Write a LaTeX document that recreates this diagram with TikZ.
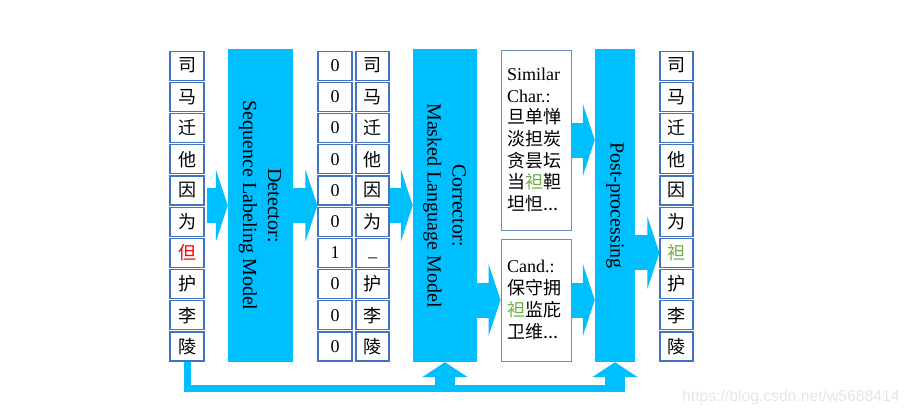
\documentclass[tikz,border=0pt]{standalone}
\usepackage{fontspec}
\setmainfont{Liberation Serif}
\setsansfont{Liberation Sans}
\newfontfamily\cjk{Noto Sans CJK SC}
\usepackage{tikz}
\usetikzlibrary{arrows.meta, calc}

\definecolor{skyb}{RGB}{0,191,255}
\definecolor{bord}{RGB}{68,114,196}
\definecolor{grn}{RGB}{112,173,71}

\tikzset{
  cell/.style = {draw=bord, line width=1.2pt, fill=white, minimum width=34pt,
    minimum height=29pt, inner sep=0pt, font=\cjk\fontsize{18}{18}\selectfont},
  num/.style = {cell, font=\fontsize{18}{18}\selectfont},
  big/.style = {fill=skyb, minimum height=313pt, inner sep=0pt,
    font=\fontsize{20}{25}\selectfont},
  txtbox/.style = {draw=bord!80, line width=1pt, minimum width=70pt, text width=58pt,
    inner xsep=6pt, align=left, font=\fontsize{18}{21.7}\selectfont},
  blk/.style = {skyb, line width=35pt, -{Triangle[length=12pt, width=72pt]}},
  fb/.style = {skyb, line width=7pt},
  uparr/.style = {skyb, line width=20pt, -{Triangle[length=15pt, width=45pt]}}
}

\begin{document}
\begin{tikzpicture}[x=1pt, y=-1pt]
\useasboundingbox (0,0) rectangle (910,416);
% input / labels / masked / output columns
\foreach \c [count=\i] in {司,马,迁,他,因,为,{\color{red}但},护,李,陵}
  \node[cell] (w\i) at (187, 34.4+31.2*\i) {\c};
\foreach \d [count=\i] in {0,0,0,0,0,0,1,0,0,0}
  \node[num] (z\i) at (335, 34.4+31.2*\i) {\d};
\foreach \c [count=\i] in {司,马,迁,他,因,为,{\rmfamily\vphantom{0}\raisebox{2pt}{\_}},护,李,陵}
  \node[cell, minimum width=33pt] (m\i) at (372.5, 34.4+31.2*\i) {\c};
\foreach \c [count=\i] in {司,马,迁,他,因,为,{\color{grn}袒},护,李,陵}
  \node[cell, minimum width=33pt] (r\i) at (676.5, 34.4+31.2*\i) {\c};

\node[big, minimum width=65pt] (det) at (260.5,205.5)
  {\rotatebox{-90}{\begin{tabular}{@{}c@{}}Detector:\\Sequence Labeling Model\end{tabular}}};
\node[big, minimum width=64pt] (corr) at (445,205.5)
  {\rotatebox{-90}{\begin{tabular}{@{}c@{}}Corrector:\\Masked Language Model\end{tabular}}};
\node[big, minimum width=40pt] (post) at (615,205.5)
  {\rotatebox{-90}{Post-processing}};

\node[txtbox, minimum height=180pt] (sim) at (536,140)
  {Similar\\Char.:\\{\cjk 旦单惮}\\{\cjk 淡担炭}\\{\cjk 贪昙坛}\\{\cjk 当{\color{grn}袒}靼}\\{\cjk 坦怛...}};
\node[txtbox, minimum height=122pt] (cand) at (536,300)
  {Cand.:\\{\cjk 保守拥}\\{\cjk {\color{grn}袒}监庇}\\{\cjk 卫维...}};

\draw[blk] ($(det.west -| w1.east)+(2,0)$) -- (det.west);
\draw[blk] (det.east) -- (det.east -| z1.west);
\draw[blk] (corr.west -| m1.east) -- (corr.west);
\draw[blk] (cand.west -| corr.east) -- (cand.west);
\draw[blk] (sim.east) -- (sim.east -| post.west);
\draw[blk] (cand.east) -- (cand.east -| post.west);
\draw[blk] (r7.west -| post.east) -- (r7.west);

% feedback of the input sentence
\coordinate (fbend) at (625,388.5);
\draw[fb] (w10.south) |- (fbend);
\draw[uparr] (corr.south |- fbend) -- (corr.south);
\draw[uparr] (post.south |- fbend) -- (post.south);

\node[anchor=west, inner sep=0pt, text=black!10, font=\sffamily\fontsize{15.7}{16}\selectfont]
  (wm) at (682,397) {https://blog.csdn.net/w5688414};
\end{tikzpicture}
\end{document}
